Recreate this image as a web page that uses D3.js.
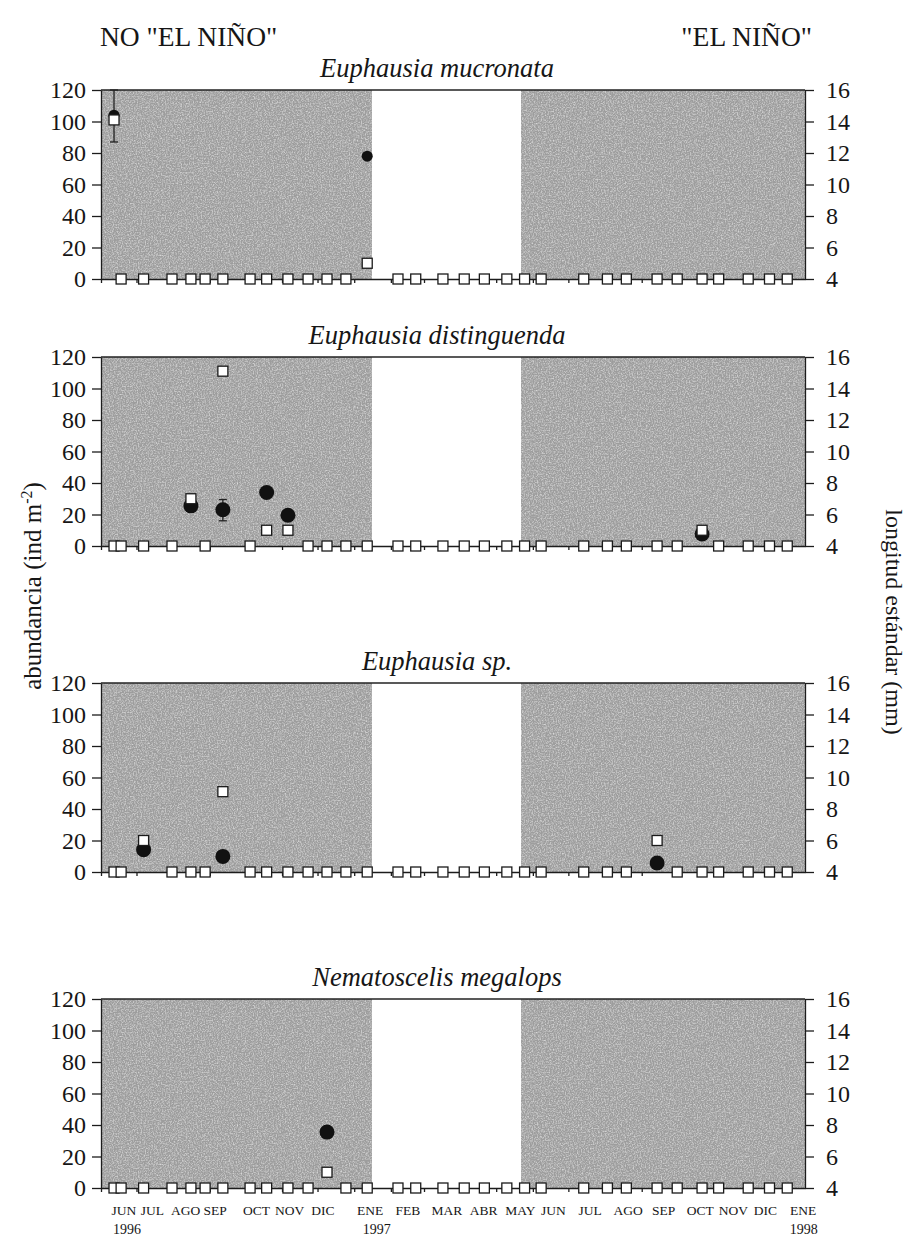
<!DOCTYPE html>
<html>
<head>
<meta charset="utf-8">
<script src="https://cdn.jsdelivr.net/npm/d3@7/dist/d3.min.js"></script>
<style>
  body { margin: 0; background: #fff; }
  svg text { font-family: "Liberation Serif", "Times New Roman", Times, "DejaVu Serif", serif; fill: #161616; }
</style>
</head>
<body>
<div id="chart"></div>
<script>
const sampleDates = ["1996-06-12","1996-06-18","1996-07-07","1996-07-31","1996-08-16","1996-08-28",
  "1996-09-12","1996-10-05","1996-10-19","1996-11-06","1996-11-23","1996-12-09","1996-12-25",
  "1997-01-12","1997-02-07","1997-02-22","1997-03-17","1997-04-04","1997-04-21","1997-05-10",
  "1997-05-25","1997-06-08","1997-07-14","1997-08-03","1997-08-19","1997-09-14","1997-10-01",
  "1997-10-22","1997-11-05","1997-11-30","1997-12-18","1998-01-02"]

const xDomain = ["1996-06-01", "1998-01-17"]
// schattierte Perioden (NO "EL NIÑO" / "EL NIÑO")
const periods = [["1996-06-01", "1997-01-16"], ["1997-05-22", "1998-01-17"]]

const monthLabels = ["JUN","JUL","AGO","SEP","OCT","NOV","DIC","ENE","FEB","MAR","ABR","MAY",
  "JUN","JUL","AGO","SEP","OCT","NOV","DIC","ENE"]
const monthLabelDates = ["1996-06-20","1996-07-14","1996-08-11","1996-09-05","1996-10-10","1996-11-07",
  "1996-12-05","1997-01-14","1997-02-15","1997-03-20","1997-04-20","1997-05-21","1997-06-18",
  "1997-07-19","1997-08-20","1997-09-19","1997-10-20","1997-11-17","1997-12-14","1998-01-15"]
const yearLabels = ["1996", "1997", "1998"]
const yearLabelDates = ["1996-06-23", "1997-01-20", "1998-01-16"]

const leftTicks = [0, 20, 40, 60, 80, 100, 120]
const rightTicks = [4, 6, 8, 10, 12, 14, 16]

const species = ["Euphausia mucronata", "Euphausia distinguenda", "Euphausia sp.", "Nematoscelis megalops"]

// Abundanz (ind m-2), lo/hi = Fehlerbalken
const abundMucronata = [{ d: "1996-06-12", v: 104, lo: 87, hi: 120 }, { d: "1997-01-12", v: 78 }]
const abundDistinguenda = [{ d: "1996-08-16", v: 25.5 }, { d: "1996-09-12", v: 23, lo: 16, hi: 29.5 },
  { d: "1996-10-19", v: 34 }, { d: "1996-11-06", v: 19.5 }, { d: "1997-10-22", v: 7.6 }]
const abundSp = [{ d: "1996-07-07", v: 14.2 }, { d: "1996-09-12", v: 9.9 }, { d: "1997-09-14", v: 5.7 }]
const abundMegalops = [{ d: "1996-12-09", v: 35.5 }]

// Standardlänge (mm)
const lenMucronata = [{ d: "1996-06-12", mm: 14.1 }, { d: "1997-01-12", mm: 5.0 }]
const lenDistinguenda = [{ d: "1996-08-16", mm: 7.0 }, { d: "1996-09-12", mm: 15.1 },
  { d: "1996-10-19", mm: 5.0 }, { d: "1996-11-06", mm: 5.0 }, { d: "1997-10-22", mm: 5.0 }]
const lenSp = [{ d: "1996-07-07", mm: 6.0 }, { d: "1996-09-12", mm: 9.1 }, { d: "1997-09-14", mm: 6.0 }]
const lenMegalops = [{ d: "1996-12-09", mm: 5.0 }]

const abundances = [abundMucronata, abundDistinguenda, abundSp, abundMegalops]
const lengths = [lenMucronata, lenDistinguenda, lenSp, lenMegalops]

// Layout
const screenwidth = 912
const screenheight = 1237
const plotX0 = 101
const plotX1 = 805
const plotH = 189
const panelTops = [90, 357, 683, 999]
const dotRadius = [5.5, 7.5, 7.5, 7.5]
const sq = 10
const serif = '"Liberation Serif", "Times New Roman", Times, "DejaVu Serif", serif'

const parse = d3.timeParse("%Y-%m-%d")

const x = d3.scaleTime().domain(xDomain.map(parse)).range([plotX0, plotX1])
const yL = d3.scaleLinear().domain([0, 120]).range([plotH, 0])
const yR = d3.scaleLinear().domain([4, 16]).range([plotH, 0])

const svg = d3.select("#chart")
  .append("svg")
  .attr("width", screenwidth)
  .attr("height", screenheight)
  .attr("font-family", serif)

// Körnung der grauen Flächen
const filt = svg.append("defs").append("filter")
  .attr("id", "grain")
  .attr("x", 0).attr("y", 0).attr("width", "100%").attr("height", "100%")
filt.append("feTurbulence")
  .attr("type", "fractalNoise")
  .attr("baseFrequency", 0.75)
  .attr("numOctaves", 2)
  .attr("seed", 4)
  .attr("result", "noise")
filt.append("feColorMatrix")
  .attr("in", "noise")
  .attr("type", "matrix")
  .attr("values", "0 0 0 0 1  0 0 0 0 1  0 0 0 0 1  1.1 0 0 0 -0.45")
  .attr("result", "spk")
filt.append("feComposite")
  .attr("in", "spk").attr("in2", "SourceGraphic").attr("operator", "in")
  .attr("result", "spk2")
const merge = filt.append("feMerge")
merge.append("feMergeNode").attr("in", "SourceGraphic")
merge.append("feMergeNode").attr("in", "spk2")

// Überschriften
svg.append("text")
  .attr("x", 100).attr("y", 46)
  .style("font-family", serif)
  .style("font-size", "27.5px")
  .text('NO "EL NIÑO"')
svg.append("text")
  .attr("x", 812).attr("y", 46)
  .style("font-family", serif)
  .style("font-size", "27.5px")
  .style("text-anchor", "end")
  .text('"EL NIÑO"')

// Achsentitel
const yt = svg.append("text")
  .attr("transform", "translate(41,586) rotate(-90)")
  .style("font-family", serif)
  .style("font-size", "25px")
  .style("text-anchor", "middle")
yt.append("tspan").text("abundancia (ind m")
yt.append("tspan").attr("dy", -9).style("font-size", "16px").text("-2")
yt.append("tspan").attr("dy", 9).text(")")

svg.append("text")
  .attr("transform", "translate(886,622) rotate(90)")
  .style("font-family", serif)
  .style("font-size", "24px")
  .style("text-anchor", "middle")
  .text("longitud estándar (mm)")

species.forEach((name, i) => {
  const g = svg.append("g")
    .attr("transform", "translate(0," + panelTops[i] + ")")

  // Perioden schattieren
  g.selectAll("rect.shade")
    .data(periods)
    .enter()
    .append("rect")
    .attr("class", "shade")
    .attr("x", d => x(parse(d[0])))
    .attr("y", 0)
    .attr("width", d => x(parse(d[1])) - x(parse(d[0])))
    .attr("height", plotH)
    .style("fill", "#9d9d9d")
    .attr("filter", "url(#grain)")

  // obere Linie
  g.append("line")
    .attr("x1", plotX0).attr("x2", plotX1)
    .attr("y1", 0).attr("y2", 0)
    .style("stroke", "#222").style("stroke-width", 1.6)

  // Titel
  g.append("text")
    .attr("x", 437).attr("y", -13)
    .style("font-family", serif)
    .style("font-size", "26.5px")
    .style("font-style", "italic")
    .style("text-anchor", "middle")
    .text(name)

  // Achsen
  const aL = g.append("g")
    .attr("transform", "translate(" + plotX0 + ",0)")
    .call(d3.axisLeft(yL).tickValues(leftTicks).tickSize(9).tickSizeOuter(0).tickPadding(6))
  const aR = g.append("g")
    .attr("transform", "translate(" + plotX1 + ",0)")
    .call(d3.axisRight(yR).tickValues(rightTicks).tickSize(9).tickSizeOuter(0).tickPadding(12))
  const aB = g.append("g")
    .attr("transform", "translate(0," + plotH + ")")
    .call(d3.axisBottom(x).ticks(d3.timeMonth.every(1)).tickSize(4).tickSizeOuter(0).tickFormat(""))

  ;[aL, aR, aB].forEach(a => {
    a.attr("font-family", serif)
    a.selectAll("path, line").style("stroke", "#1c1c1c").style("stroke-width", 1.3)
    a.selectAll("text")
      .style("font-family", serif)
      .style("font-size", "24px")
      .style("fill", "#161616")
  })

  // Fehlerbalken
  const errs = abundances[i].filter(d => d.lo !== undefined)
  const eb = g.selectAll("g.err")
    .data(errs)
    .enter()
    .append("g")
    .attr("class", "err")
  eb.append("line")
    .attr("x1", d => x(parse(d.d))).attr("x2", d => x(parse(d.d)))
    .attr("y1", d => yL(d.lo)).attr("y2", d => yL(d.hi))
  eb.append("line")
    .attr("x1", d => x(parse(d.d)) - 4).attr("x2", d => x(parse(d.d)) + 4)
    .attr("y1", d => yL(d.lo)).attr("y2", d => yL(d.lo))
  eb.append("line")
    .attr("x1", d => x(parse(d.d)) - 4).attr("x2", d => x(parse(d.d)) + 4)
    .attr("y1", d => yL(d.hi)).attr("y2", d => yL(d.hi))
  eb.selectAll("line").style("stroke", "#222").style("stroke-width", 1.3)

  // Abundanz (schwarze Kreise)
  g.selectAll("circle.ab")
    .data(abundances[i])
    .enter()
    .append("circle")
    .attr("class", "ab")
    .attr("cx", d => x(parse(d.d)))
    .attr("cy", d => yL(d.v))
    .attr("r", dotRadius[i])
    .style("fill", "#111")

  // Proben ohne Länge -> Quadrat auf der Nulllinie
  const withLen = lengths[i].map(d => d.d)
  const zeros = sampleDates.filter(d => withLen.indexOf(d) < 0)
  g.selectAll("rect.zero")
    .data(zeros)
    .enter()
    .append("rect")
    .attr("class", "zero")
    .attr("x", d => x(parse(d)) - sq / 2)
    .attr("y", yL(0) - sq / 2)
    .attr("width", sq).attr("height", sq)
    .style("fill", "#fff").style("stroke", "#1a1a1a").style("stroke-width", 1.3)

  // Standardlänge (weiße Quadrate, rechte Achse)
  g.selectAll("rect.len")
    .data(lengths[i])
    .enter()
    .append("rect")
    .attr("class", "len")
    .attr("x", d => x(parse(d.d)) - sq / 2)
    .attr("y", d => yR(d.mm) - sq / 2)
    .attr("width", sq).attr("height", sq)
    .style("fill", "#fff").style("stroke", "#1a1a1a").style("stroke-width", 1.3)

  // Monatsbeschriftung nur im untersten Feld
  if (i == species.length - 1) {
    const lab = g.append("g")
      .attr("transform", "translate(0," + plotH + ")")
      .call(d3.axisBottom(x)
        .tickValues(monthLabelDates.map(parse))
        .tickSize(0)
        .tickPadding(17)
        .tickFormat((d, k) => monthLabels[k]))
    lab.select(".domain").remove()
    lab.selectAll("text")
      .style("font-family", serif)
      .style("font-size", "13.5px")
      .style("fill", "#161616")

    g.selectAll("text.year")
      .data(yearLabels)
      .enter()
      .append("text")
      .attr("class", "year")
      .attr("x", (d, k) => x(parse(yearLabelDates[k])))
      .attr("y", plotH + 46)
      .style("font-family", serif)
      .style("font-size", "14px")
      .style("text-anchor", "middle")
      .text(d => d)
  }
})
</script>
</body>
</html>
